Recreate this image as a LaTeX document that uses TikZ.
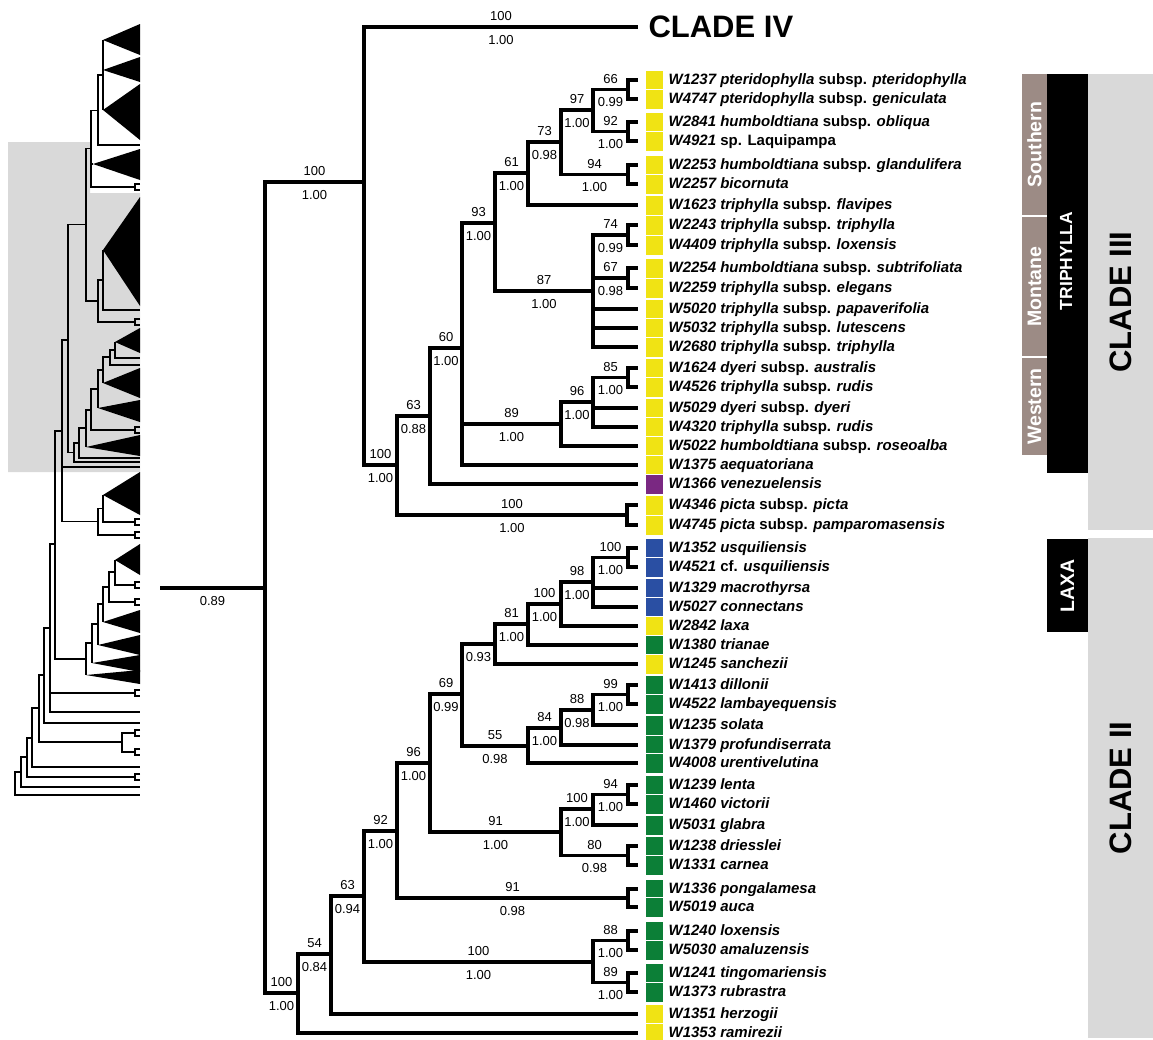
\documentclass[tikz,border=0pt]{standalone}
\usepackage{fontspec}
\setmainfont{Liberation Sans}
\usetikzlibrary{positioning, calc}
\definecolor{tipYellow}{HTML}{F0E314}
\definecolor{tipBlue}{HTML}{2A4FA3}
\definecolor{tipGreen}{HTML}{0C7F37}
\definecolor{tipPurple}{HTML}{7A2882}
\definecolor{regTaupe}{HTML}{9C8B85}
\definecolor{barGrey}{HTML}{D9D9D9}
\definecolor{ovGrey}{HTML}{D9D9D9}
\tikzset{
  br/.style={line width=3.2pt},
  ov/.style={line width=1.6pt},
  sup/.style={font=\fontsize{13}{15}\selectfont, inner sep=1pt,
              text height=9.3pt, text depth=0pt, above=3.5pt},
  post/.style={font=\fontsize{13}{15}\selectfont, inner sep=1pt,
               text height=9.3pt, text depth=0pt, below=5.5pt},
  tipsq/.style={rectangle, draw=white, line width=0.8pt, inner sep=0pt,
                minimum width=18pt, minimum height=20pt},
  tipname/.style={inner sep=0pt, anchor=west, text height=11pt, text depth=3pt,
                  font=\fontsize{15}{18}\selectfont\bfseries},
  cladelab/.style={font=\fontsize{31}{36}\selectfont\bfseries},
  barlab/.style={rectangle, rotate=90, inner sep=0pt, text=white,
                 font=\fontsize{19.5}{22}\selectfont\bfseries},
}
\begin{document}
\begin{tikzpicture}[x=1pt, y=-1pt]
  \useasboundingbox (0,0) rectangle (1153,1039);

  % overview tree
  \fill[ovGrey] (8,142) -- (90,142) -- (90,193) -- (140,193) -- (140,472) -- (8,472) -- cycle;
  \foreach \ax/\ay/\bt/\bb in {103/40/24/55, 103/70/57/82, 103/110/84/140, 93/164/149/180,
      103/250/197/306, 115/342/328/353, 103/383/368/398, 98/408/400/422, 86/447/435/456,
      103/495/472/515, 115/560/544/575, 103/622/610/633, 98/645/635/655, 92/663/655/672,
      86/675/670/684}
    \fill (\ax,\ay) -- (140,\bt) -- (140,\bb) -- cycle;
  \foreach \y in {187,322,430,522,535,585,602,693,733,752,777}
    \draw[ov] (140,{\y-3}) -- (135,{\y-3}) -- (135,{\y+3}) -- (140,{\y+3});
  \draw[ov] (103,40) -- (103,110);
  \draw[ov] (103,250) -- (103,310) -- (140,310);
  \draw[ov] (115,342) -- (115,358) -- (140,358);
  \draw[ov] (103,495) -- (103,522) -- (135,522);
  \draw[ov] (115,560) -- (115,585) -- (135,585);
  \foreach \px/\py/\cx/\cy in {98/110.5/103/75, 98/110.5/140/145, 91/148.5/98/110.5,
      91/148.5/93/164, 91/148.5/135/187, 86/224.5/91/148.5, 86/224.5/98/301,
      98/301/103/280, 98/301/135/322, 68/340/86/224.5, 68/340/74/452.5,
      62/431/68/340, 62/431/140/467, 62/431/98/521.5, 98/521.5/103/508.5, 98/521.5/135/535,
      110/357/115/350, 110/357/140/365, 103/370/110/357, 103/370/103/383,
      98/389/103/370, 98/389/98/408, 91/410/98/389, 91/410/135/430,
      86/428/91/410, 86/428/86/447, 79/443/86/428, 79/443/140/458,
      74/452.5/79/443, 74/452.5/140/462,
      109/587/115/572, 109/587/135/602, 103/604/109/587, 103/604/103/622,
      98/624/103/604, 98/624/98/645, 92/643/98/624, 92/643/92/663,
      86/659/92/643, 86/659/86/675, 55/544/62/431, 55/544/86/659,
      50/628/55/544, 50/628/135/693, 50/628/140/712, 44/675/50/628, 44/675/140/723,
      39/708/44/675, 39/708/122/742, 122/742/135/733, 122/742/135/752,
      32/738/39/708, 32/738/140/767, 27/757/32/738, 27/757/135/777,
      21/772/27/757, 21/772/140/787, 15/783/21/772, 15/783/140/795}
    \draw[ov] (\px,\py) |- (\cx,\cy);

  % tips
  \foreach \i/\y/\c/\tiplab in {
      1/80/tipYellow/{\textit{W1237 pteridophylla} subsp. \textit{pteridophylla}},
      2/99/tipYellow/{\textit{W4747 pteridophylla} subsp. \textit{geniculata}},
      3/122/tipYellow/{\textit{W2841 humboldtiana} subsp. \textit{obliqua}},
      4/141/tipYellow/{\textit{W4921} sp. Laquipampa},
      5/165/tipYellow/{\textit{W2253 humboldtiana} subsp. \textit{glandulifera}},
      6/184/tipYellow/{\textit{W2257 bicornuta}},
      7/205/tipYellow/{\textit{W1623 triphylla} subsp. \textit{flavipes}},
      8/225/tipYellow/{\textit{W2243 triphylla} subsp. \textit{triphylla}},
      9/245/tipYellow/{\textit{W4409 triphylla} subsp. \textit{loxensis}},
      10/268/tipYellow/{\textit{W2254 humboldtiana} subsp. \textit{subtrifoliata}},
      11/288/tipYellow/{\textit{W2259 triphylla} subsp. \textit{elegans}},
      12/309/tipYellow/{\textit{W5020 triphylla} subsp. \textit{papaverifolia}},
      13/328/tipYellow/{\textit{W5032 triphylla} subsp. \textit{lutescens}},
      14/347/tipYellow/{\textit{W2680 triphylla} subsp. \textit{triphylla}},
      15/368/tipYellow/{\textit{W1624 dyeri} subsp. \textit{australis}},
      16/387/tipYellow/{\textit{W4526 triphylla} subsp. \textit{rudis}},
      17/408/tipYellow/{\textit{W5029 dyeri} subsp. \textit{dyeri}},
      18/427/tipYellow/{\textit{W4320 triphylla} subsp. \textit{rudis}},
      19/446/tipYellow/{\textit{W5022 humboldtiana} subsp. \textit{roseoalba}},
      20/465/tipYellow/{\textit{W1375 aequatoriana}},
      21/484/tipPurple/{\textit{W1366 venezuelensis}},
      22/505/tipYellow/{\textit{W4346 picta} subsp. \textit{picta}},
      23/525/tipYellow/{\textit{W4745 picta} subsp. \textit{pamparomasensis}},
      24/548/tipBlue/{\textit{W1352 usquiliensis}},
      25/567/tipBlue/{\textit{W4521} cf. \textit{usquiliensis}},
      26/588/tipBlue/{\textit{W1329 macrothyrsa}},
      27/607/tipBlue/{\textit{W5027 connectans}},
      28/626/tipYellow/{\textit{W2842 laxa}},
      29/645/tipGreen/{\textit{W1380 trianae}},
      30/664/tipYellow/{\textit{W1245 sanchezii}},
      31/685/tipGreen/{\textit{W1413 dillonii}},
      32/704/tipGreen/{\textit{W4522 lambayequensis}},
      33/725/tipGreen/{\textit{W1235 solata}},
      34/745/tipGreen/{\textit{W1379 profundiserrata}},
      35/763/tipGreen/{\textit{W4008 urentivelutina}},
      36/785/tipGreen/{\textit{W1239 lenta}},
      37/804/tipGreen/{\textit{W1460 victorii}},
      38/825/tipGreen/{\textit{W5031 glabra}},
      39/846/tipGreen/{\textit{W1238 driesslei}},
      40/865/tipGreen/{\textit{W1331 carnea}},
      41/889/tipGreen/{\textit{W1336 pongalamesa}},
      42/907/tipGreen/{\textit{W5019 auca}},
      43/931/tipGreen/{\textit{W1240 loxensis}},
      44/950/tipGreen/{\textit{W5030 amaluzensis}},
      45/973/tipGreen/{\textit{W1241 tingomariensis}},
      46/992/tipGreen/{\textit{W1373 rubrastra}},
      47/1014/tipYellow/{\textit{W1351 herzogii}},
      48/1033/tipYellow/{\textit{W1353 ramirezii}}}{
    \coordinate (l\i) at (638,\y);
    \node[tipsq, fill=\c] (s\i) at (654.5,\y) {};
    \node[tipname, right=4.5pt of s\i] (t\i) {\tiplab};
  }

  % internal nodes
  \foreach \n/\x/\y in {stem/160/588, root/265/588, cIVIII/364/182, cIV/638/27,
      cIII/397/465, n63/430/416, picta/627/515, n60/462/348, n93/495/223, n89/561/424,
      n61/528/173, n87/593/291, n73/561/142, n97/593/110, n94/628/174.5,
      n66/628/89.5, n92/628/131.5, n74/628/235, n67/628/278, n96/593/402, n85/628/377.5,
      cII/298/993, n54/331/954, n63b/364/896, n92b/397/831, amal/593/962,
      n88b/628/940.5, n89b/628/982.5, n96b/430/763, n91b/628/898, n69/462/694,
      n91c/561/832, n93b/495/644, n55/528/746, n81/528/624, n100b/561/604,
      n98/593/582, usq/628/557.5, n84/561/728, n88c/593/710, n99/628/694.5,
      n100c/593/809, n80/628/855.5, n94b/628/794.5}
    \coordinate (\n) at (\x,\y);

  \draw[br] (stem) -- (root) node[midway, post] {0.89};
  \node[cladelab, anchor=west, right=7pt of cIV] (cIVlab) {CLADE IV};

  % supported branches
  \foreach \p/\c/\bs/\pp in {root/cIVIII/100/1.00, cIVIII/cIV/100/1.00,
      cIVIII/cIII/100/1.00, cIII/n63/63/0.88, cIII/picta/100/1.00, n63/n60/60/1.00,
      n60/n93/93/1.00, n60/n89/89/1.00, n93/n61/61/1.00, n93/n87/87/1.00,
      n61/n73/73/0.98, n73/n97/97/1.00, n73/n94/94/1.00, n97/n66/66/0.99,
      n97/n92/92/1.00, n87/n74/74/0.99, n87/n67/67/0.98, n89/n96/96/1.00,
      n96/n85/85/1.00,
      root/cII/100/1.00, cII/n54/54/0.84, n54/n63b/63/0.94, n63b/n92b/92/1.00,
      n63b/amal/100/1.00, amal/n88b/88/1.00, amal/n89b/89/1.00, n92b/n96b/96/1.00,
      n92b/n91b/91/0.98, n96b/n69/69/0.99, n96b/n91c/91/1.00, n69/n93b//0.93,
      n69/n55/55/0.98, n93b/n81/81/1.00, n81/n100b/100/1.00, n100b/n98/98/1.00,
      n98/usq/100/1.00, n55/n84/84/1.00, n84/n88c/88/0.98, n88c/n99/99/1.00,
      n91c/n100c/100/1.00, n91c/n80/80/0.98, n100c/n94b/94/1.00}
    \draw[br] (\p) |- (\c) node[pos=.75, sup] {\bs} node[pos=.75, post] {\pp};

  % branches to tips
  \foreach \p/\c in {n66/l1, n66/l2, n92/l3, n92/l4, n94/l5, n94/l6, n61/l7,
      n74/l8, n74/l9, n67/l10, n67/l11, n87/l12, n87/l13, n87/l14, n85/l15, n85/l16,
      n96/l17, n96/l18, n89/l19, n60/l20, n63/l21, picta/l22, picta/l23,
      usq/l24, usq/l25, n98/l26, n98/l27, n100b/l28, n81/l29, n93b/l30,
      n99/l31, n99/l32, n88c/l33, n84/l34, n55/l35, n94b/l36, n94b/l37, n100c/l38,
      n80/l39, n80/l40, n91b/l41, n91b/l42, n88b/l43, n88b/l44, n89b/l45, n89b/l46,
      n54/l47, cII/l48}
    \draw[br] (\p) |- (\c);

  % clade bars
  \node[barlab, fill=barGrey, text=black, font=\fontsize{31}{36}\selectfont\bfseries,
        minimum width=456pt, minimum height=65pt] (barIII) at (1120.5,302) {CLADE III};
  \node[barlab, fill=barGrey, text=black, font=\fontsize{31}{36}\selectfont\bfseries,
        minimum width=500pt, minimum height=65pt] (barII) at (1120.5,788) {CLADE II};
  \node[barlab, fill=black, minimum width=399pt, minimum height=41pt] (triph) at (1067.5,273.5) {};
  \node[barlab, font=\fontsize{17.5}{20}\selectfont\bfseries] (triphlab) at (1066,261) {TRIPHYLLA};
  \node[barlab, fill=black, minimum width=93pt, minimum height=41pt] (laxa) at (1067.5,585.5) {LAXA};
  \node[barlab, fill=regTaupe, minimum width=141pt, minimum height=25pt] (south) at (1034.5,144.5) {Southern};
  \node[barlab, fill=regTaupe, minimum width=139pt, minimum height=25pt] (mont) at (1034.5,286.5) {Montane};
  \node[barlab, fill=regTaupe, minimum width=97pt, minimum height=25pt] (west) at (1034.5,406.5) {Western};
\end{tikzpicture}
\end{document}
